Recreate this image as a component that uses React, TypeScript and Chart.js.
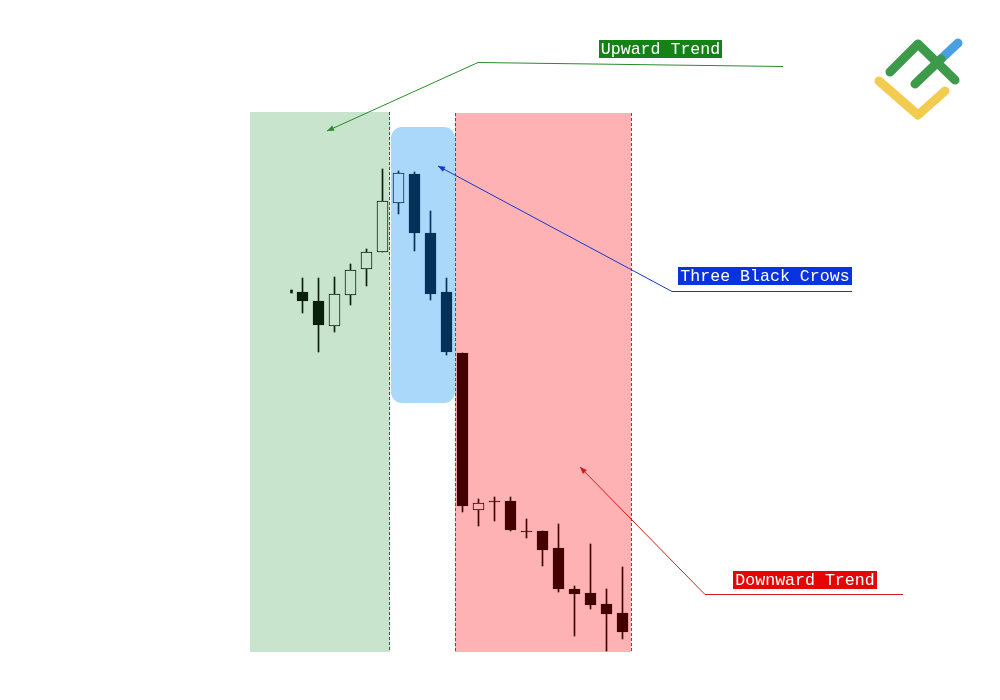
import React, { useEffect, useRef } from "react";
import { Chart, registerables } from "chart.js";

Chart.register(...registerables);

// ---------- DATA ----------
const candleIndex = [0, 1, 2, 3, 4, 5, 6, 7, 8, 9, 10, 11, 12, 13, 14, 15, 16, 17, 18, 19, 20];
const opens = [1.1408, 1.1399, 1.1374, 1.1405, 1.1431, 1.1448, 1.1497, 1.1526, 1.1467, 1.1408, 1.1347, 1.119, 1.1199, 1.1199, 1.1169, 1.1169, 1.1152, 1.1111, 1.1107, 1.1096, 1.1087];
const highs = [1.1422, 1.1422, 1.1423, 1.1436, 1.1451, 1.1531, 1.1529, 1.1528, 1.1489, 1.1422, 1.1347, 1.1201, 1.1203, 1.1203, 1.1181, 1.1169, 1.1176, 1.1114, 1.1156, 1.1111, 1.1133];
const lows = [1.1387, 1.1348, 1.1368, 1.1395, 1.1414, 1.1448, 1.1486, 1.1449, 1.14, 1.1345, 1.1188, 1.1174, 1.1179, 1.1169, 1.1162, 1.1134, 1.1108, 1.1064, 1.1091, 1.1049, 1.1061];
const closes = [1.1399, 1.1375, 1.1406, 1.143, 1.1448, 1.1499, 1.1527, 1.1467, 1.1406, 1.1348, 1.1194, 1.1197, 1.1198, 1.117, 1.1168, 1.115, 1.1111, 1.1106, 1.1095, 1.1086, 1.1068];
const candleZone = [0, 0, 0, 0, 0, 0, 1, 1, 1, 1, 2, 2, 2, 2, 2, 2, 2, 2, 2, 2, 2];

// partial candle fragment left of the first full candle
const fragmentIndex = [-0.6875];
const fragmentOpen = [1.141];
const fragmentClose = [1.1407];

// highlighted zones
const zoneNames = ["Upward Trend", "Three Black Crows", "Downward Trend"];
const zoneStart = [-3.28125, 5.53125, 9.53125];
const zoneEnd = [5.46875, 9.53125, 20.53125];
const zoneTop = [1.1588, 1.1573, 1.1587];
const zoneBottom = [1.1048, 1.1297, 1.1048];

// ---------- STYLE ----------
const zoneFill = ["#c8e4cc", "#aad8fb", "#ffb2b4"];
const candleColor = ["#0b200b", "#05305a", "#420000"];
const labelBg = ["#148214", "#0a33e0", "#e60505"];
const lineColor = ["#2a8a2a", "#1a35c8", "#d41a1a"];

const zonesPlugin = {
  id: "zones",
  beforeDatasetsDraw(chart: any) {
    const { ctx, scales } = chart;
    const x = scales.x;
    const y = scales.y;
    ctx.save();
    [0, 2].forEach((z) => {
      const x0 = Math.round(x.getPixelForValue(zoneStart[z]));
      const x1 = Math.round(x.getPixelForValue(zoneEnd[z]));
      const y0 = Math.round(y.getPixelForValue(zoneTop[z]));
      const y1 = Math.round(y.getPixelForValue(zoneBottom[z]));
      ctx.fillStyle = zoneFill[z];
      ctx.fillRect(x0, y0, x1 - x0, y1 - y0);
    });
    {
      const z = 1;
      const x0 = Math.round(x.getPixelForValue(zoneStart[z]));
      const x1 = Math.round(x.getPixelForValue(zoneEnd[z]));
      const y0 = Math.round(y.getPixelForValue(zoneTop[z]));
      const y1 = Math.round(y.getPixelForValue(zoneBottom[z]));
      ctx.fillStyle = zoneFill[z];
      ctx.beginPath();
      (ctx as any).roundRect(x0, y0, x1 - x0, y1 - y0, 11);
      ctx.fill();
    }
    const dashed = (val: number, z: number, col: string) => {
      const px = Math.round(x.getPixelForValue(val)) - 0.5;
      const y0 = Math.round(y.getPixelForValue(zoneTop[z]));
      const y1 = Math.round(y.getPixelForValue(zoneBottom[z]));
      ctx.strokeStyle = col;
      ctx.lineWidth = 1;
      ctx.setLineDash([3, 2]);
      ctx.beginPath();
      ctx.moveTo(px, y0);
      ctx.lineTo(px, y1);
      ctx.stroke();
    };
    dashed(zoneEnd[0], 0, "#c41a1a");
    dashed(zoneStart[2] + 0.0625, 2, "#d81c1c");
    dashed(zoneEnd[2] + 0.0625, 2, "#d81c1c");
    ctx.restore();
  },
};

function arrowLine(ctx: CanvasRenderingContext2D, pts: number[][], color: string) {
  ctx.strokeStyle = color;
  ctx.fillStyle = color;
  ctx.lineWidth = 1;
  ctx.setLineDash([]);
  ctx.beginPath();
  ctx.moveTo(pts[0][0], pts[0][1]);
  for (let i = 1; i < pts.length; i++) ctx.lineTo(pts[i][0], pts[i][1]);
  ctx.stroke();
  const [ax, ay] = pts[pts.length - 2];
  const [bx, by] = pts[pts.length - 1];
  const ang = Math.atan2(by - ay, bx - ax);
  const len = 7;
  const w = 2.8;
  ctx.beginPath();
  ctx.moveTo(bx, by);
  ctx.lineTo(bx - len * Math.cos(ang) + w * Math.sin(ang), by - len * Math.sin(ang) - w * Math.cos(ang));
  ctx.lineTo(bx - len * Math.cos(ang) - w * Math.sin(ang), by - len * Math.sin(ang) + w * Math.cos(ang));
  ctx.closePath();
  ctx.fill();
}

function label(ctx: CanvasRenderingContext2D, text: string, bx: number, by: number, bw: number, bg: string) {
  ctx.fillStyle = bg;
  ctx.fillRect(bx, by, bw, 18);
  ctx.fillStyle = "#ffffff";
  ctx.font = '16.6px "Liberation Mono", "DejaVu Sans Mono", monospace';
  ctx.textAlign = "center";
  ctx.textBaseline = "middle";
  ctx.fillText(text, bx + bw / 2, by + 10);
}

const annotationPlugin = {
  id: "annotations",
  afterDraw(chart: any) {
    const { ctx } = chart;
    ctx.save();
    arrowLine(ctx, [[783, 66.5], [478, 62.5], [327, 131]], lineColor[0]);
    arrowLine(ctx, [[852, 291.5], [672, 291.5], [438, 166]], lineColor[1]);
    arrowLine(ctx, [[903, 594.5], [705, 594.5], [580, 467]], lineColor[2]);
    label(ctx, zoneNames[0], 599, 40, 123, labelBg[0]);
    label(ctx, zoneNames[1], 678, 267, 174, labelBg[1]);
    label(ctx, zoneNames[2], 733, 571, 144, labelBg[2]);

    // logo
    ctx.lineCap = "round";
    ctx.lineJoin = "round";
    ctx.lineWidth = 9;
    ctx.strokeStyle = "#f3cb4f";
    ctx.beginPath();
    ctx.moveTo(879, 81);
    ctx.lineTo(918, 115);
    ctx.lineTo(945, 91);
    ctx.stroke();
    ctx.strokeStyle = "#4a9fe0";
    ctx.beginPath();
    ctx.moveTo(942, 58);
    ctx.lineTo(958, 43);
    ctx.stroke();
    ctx.strokeStyle = "#3d9a4a";
    ctx.beginPath();
    ctx.moveTo(890, 72);
    ctx.lineTo(918, 44);
    ctx.lineTo(955, 80);
    ctx.stroke();
    ctx.beginPath();
    ctx.moveTo(915, 84);
    ctx.lineTo(941, 59);
    ctx.stroke();
    ctx.restore();
  },
};

export default function App() {
  const ref = useRef<HTMLCanvasElement>(null);
  useEffect(() => {
    document.body.style.margin = "0";
    if (!ref.current) return;
    const bodyColors = candleIndex.map((i) => candleColor[candleZone[i]]);
    const bodyFills = candleIndex.map((i) =>
      closes[i] < opens[i] ? candleColor[candleZone[i]] : zoneFill[candleZone[i]]
    );
    const chart = new Chart(ref.current, {
      type: "bar",
      data: {
        datasets: [
          {
            label: "body",
            data: candleIndex.map((i) => ({ x: i, y: [opens[i], closes[i]] })) as any,
            backgroundColor: bodyFills,
            borderColor: bodyColors,
            borderWidth: 1,
            borderSkipped: false,
            barThickness: 11,
            grouped: false,
          } as any,
          {
            label: "fragment",
            data: fragmentIndex.map((v, k) => ({ x: v, y: [fragmentOpen[k], fragmentClose[k]] })) as any,
            backgroundColor: candleColor[0],
            borderWidth: 0,
            barThickness: 2,
            grouped: false,
          } as any,
          {
            label: "wick",
            data: candleIndex.map((i) => ({ x: i, y: [lows[i], highs[i]] })) as any,
            backgroundColor: bodyColors,
            borderWidth: 0,
            barThickness: 1,
            grouped: false,
          } as any,
        ],
      },
      options: {
        animation: false,
        responsive: false,
        maintainAspectRatio: false,
        layout: { padding: 0 },
        plugins: { legend: { display: false }, tooltip: { enabled: false } },
        scales: {
          x: { type: "linear", min: -18.90625, max: 43.59375, offset: false, display: false, grid: { offset: false } },
          y: { type: "linear", min: 1.1, max: 1.17, display: false },
        },
      },
      plugins: [zonesPlugin, annotationPlugin],
    });
    return () => chart.destroy();
  }, []);
  return (
    <div style={{ width: 1000, height: 700, background: "#ffffff" }}>
      <canvas ref={ref} width={1000} height={700} style={{ display: "block" }} />
    </div>
  );
}
